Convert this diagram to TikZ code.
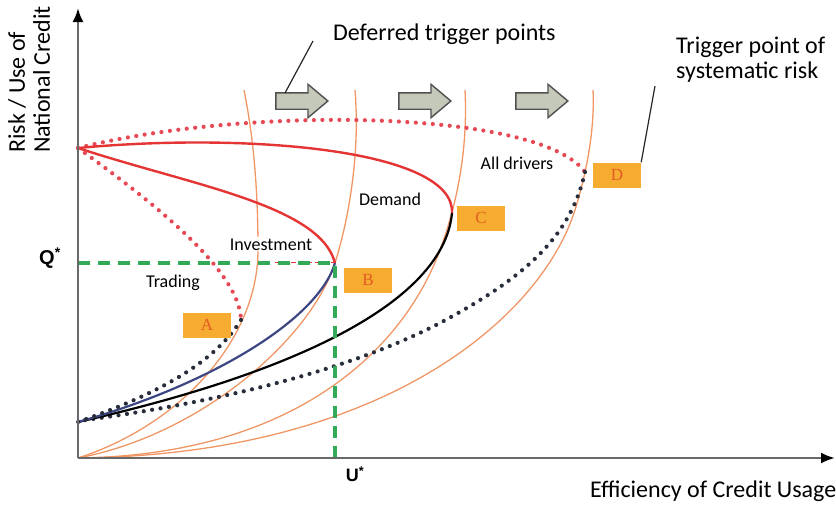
\documentclass[tikz,border=0pt]{standalone}
\usepackage{fontspec}
\setmainfont{Carlito}
\newfontfamily\arialfont{Liberation Sans}
\newfontfamily\timesfont{Liberation Serif}
\usetikzlibrary{shapes.arrows,arrows.meta,calc}

\definecolor{axisgray}{RGB}{105,105,105}
\definecolor{conecolor}{RGB}{240,150,100}
\definecolor{riskred}{RGB}{228,52,52}
\definecolor{dotred}{RGB}{230,72,84}
\definecolor{dotblack}{RGB}{40,45,60}
\definecolor{pathblue}{RGB}{60,70,130}
\definecolor{qgreen}{RGB}{52,170,88}
\definecolor{boxorange}{RGB}{246,172,48}
\definecolor{letterred}{RGB}{226,92,36}
\definecolor{arrowfill}{RGB}{196,201,186}
\definecolor{arrowedge}{RGB}{80,80,80}

\begin{document}
\begin{tikzpicture}[x=1pt, y=-1pt,
  axisline/.style={line width=2.4pt, draw=axisgray, -{Latex[length=14pt,width=11pt,color=black]}},
  cone/.style={line width=1.3pt, draw=conecolor},
  riskline/.style={line width=2.4pt, draw=riskred},
  pathline/.style={line width=2.2pt},
  dotline/.style={line width=4.2pt, line cap=round, dash pattern=on 0pt off 8.5pt},
  qline/.style={line width=3.2pt, draw=qgreen, dash pattern=on 12pt off 8pt},
  pointbox/.style={fill=boxorange, minimum width=48pt, minimum height=25pt, inner sep=0pt,
    text=letterred, font=\timesfont\fontsize{17}{17}\selectfont},
  driver/.style={fill=white, inner sep=1pt, font=\fontsize{18}{20}\selectfont},
  shiftarrow/.style={single arrow, draw=arrowedge, fill=arrowfill, line width=1.4pt,
    minimum height=52pt, inner xsep=0pt, inner ysep=7.5pt,
    single arrow head extend=8.5pt, single arrow tip angle=80},
  callout/.style={line width=1.2pt, draw=black!85},
  bigtext/.style={inner sep=0pt, font=\fontsize{24}{25}\selectfont}]

\useasboundingbox (0,0) rectangle (836,504);

% TRIGGER CURVES
\draw[cone] (78,458) .. controls (180,425) and (258,340) .. (258,250)
  .. controls (258,180) and (252,130) .. (244,90);
\draw[cone] (78,458) .. controls (200,435) and (310,340) .. (335,263)
  .. controls (350,215) and (360,150) .. (355,90);
\draw[cone] (78,458) .. controls (300,455) and (405,345) .. (440,250)
  .. controls (457,204) and (468,150) .. (465,90);
\draw[cone] (78,458) .. controls (380,455) and (540,320) .. (575,210)
  .. controls (586,175) and (595,130) .. (593,90);

% RED BRANCHES FROM THE TOP
\draw[dotline, draw=dotred] (78,148) .. controls (250,105) and (540,110) .. (585,172);
\draw[riskline] (78,148) .. controls (250,132) and (455,150) .. (452,213);
\draw[riskline] (78,148) .. controls (190,185) and (320,205) .. (335,263);
\draw[dotline, draw=dotred] (78,148) .. controls (150,200) and (240,270) .. (241,320);

% LOWER BRANCHES
\draw[dotline, draw=dotblack] (585,172) .. controls (570,240) and (520,280) .. (440,323)
  .. controls (340,375) and (200,405) .. (78,421);
\draw[pathline, draw=black] (452,213) .. controls (445,290) and (330,365) .. (78,422);
\draw[pathline, draw=pathblue] (335,263) .. controls (318,320) and (210,385) .. (78,422);
\draw[dotline, draw=dotblack] (241,320) .. controls (210,370) and (140,400) .. (78,422);

% Q* AND U*
\draw[riskred, line width=1pt, dash pattern=on 5pt off 3pt] (275,262) -- (335,262);
\draw[qline] (78,263) -- (335,263) -- (335,458);

% AXES
\draw[axisline] (78,458) -- (78,8);
\draw[axisline] (78,458) -- (835,458);

\node[font=\arialfont\bfseries\fontsize{20}{20}\selectfont] (qstar) at (50,258) {Q\textsuperscript{*}};
\node[font=\arialfont\bfseries\fontsize{18}{18}\selectfont] (ustar) at (355,474) {U\textsuperscript{*}};

\node[bigtext, rotate=90, anchor=north west, align=left] (ylabel) at (8,153) {Risk / Use of\\National Credit};
\node[bigtext, anchor=base west] (xlabel) at (590,497) {Efficiency of Credit Usage};

% TRIGGER POINTS
\node[pointbox] (boxA) at (207,325) {A};
\node[pointbox] (boxB) at (368,280) {B};
\node[pointbox] (boxC) at (481,218) {C};
\node[pointbox] (boxD) at (617,175) {D};

\node[driver, anchor=base] (trading) at (173,287) {Trading};
\node[driver, anchor=base] (investment) at (271,250) {Investment};
\node[driver, anchor=base] (demand) at (390,205) {Demand};
\node[driver, anchor=base] (alldrivers) at (517,169) {All drivers};

% DEFERRED SHIFT
\node[shiftarrow] (arr1) at (297,101) {};
\node[shiftarrow] (arr2) at (420,101) {};
\node[shiftarrow] (arr3) at (537,101) {};

\node[bigtext, anchor=base west] (deferred) at (333,40) {Deferred trigger points};
\coordinate (defertail) at (313,41);
\draw[callout] (defertail) -- ($(arr1.center)+(-12,-8)$);

\node[bigtext, anchor=base west, align=left] (systematic) at (676,78) {Trigger point of\\systematic risk};
\coordinate (systail) at (655,86);
\draw[callout] (boxD.north east) -- (systail);
\end{tikzpicture}
\end{document}
